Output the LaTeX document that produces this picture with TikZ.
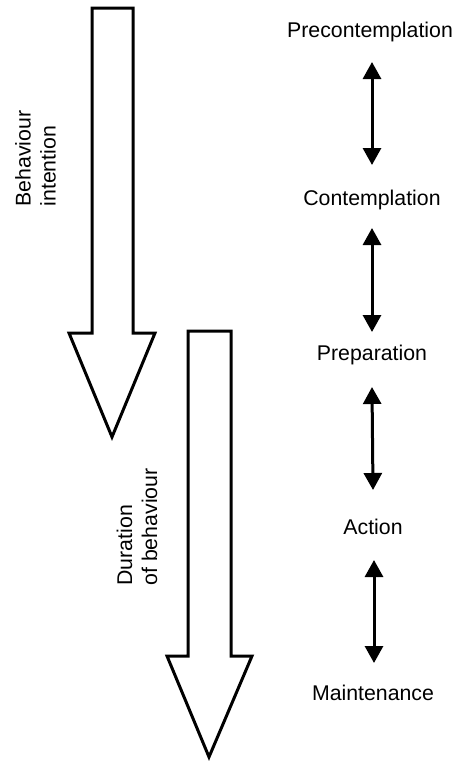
\documentclass[tikz,border=0pt]{standalone}
\usepackage{fontspec}
\setmainfont{Liberation Sans}
\usetikzlibrary{arrows.meta}
\begin{document}
\begin{tikzpicture}[x=1pt,y=-1pt,
  bigarrow/.style={draw=black,line width=3pt,fill=white,line join=miter},
  stage/.style={font=\fontsize{21.3}{25}\selectfont,inner sep=0pt},
  vlabel/.style={font=\fontsize{21.3}{25}\selectfont,rotate=90,align=left,inner sep=0pt},
  dbl/.style={line width=3pt,{Triangle[width=18pt,length=17pt]}-{Triangle[width=18pt,length=17pt]}}]
\useasboundingbox (0,0) rectangle (465,763);
% big arrows
\draw[bigarrow] (92,8) -- (133,8) -- (133,333) -- (155,333) -- (112,437) -- (69,333) -- (92,333) -- cycle;
\draw[bigarrow] (188,331) -- (231,331) -- (231,656) -- (252,656) -- (209,757) -- (167,656) -- (188,656) -- cycle;
% vertical labels
\node[vlabel] (bi) at (35.5,158.5) {Behaviour\\intention};
\node[vlabel] (db) at (137,527) {Duration\\of behaviour};
% stages
\node[stage] (pre) at (370,32) {Precontemplation};
\node[stage] (con) at (372,200) {Contemplation};
\node[stage] (prep) at (372,355) {Preparation};
\node[stage] (act) at (373,527) {Action};
\node[stage] (main) at (373,693) {Maintenance};
\draw[dbl] ([xshift=2pt,yshift=-30pt]pre.center) -- ([yshift=35pt]con.center);
\draw[dbl] ([yshift=-28pt]con.center) -- ([yshift=23pt]prep.center);
\draw[dbl] ([yshift=-32pt]prep.center) -- ([yshift=37pt]act.center);
\draw[dbl] ([xshift=1pt,yshift=-33pt]act.center) -- ([xshift=1pt,yshift=30pt]main.center);
\end{tikzpicture}
\end{document}
